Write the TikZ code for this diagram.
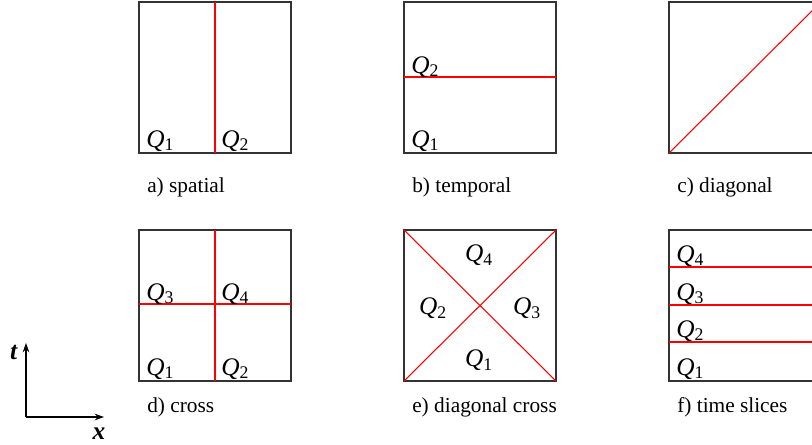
\documentclass[tikz,border=0pt]{standalone}
\usepackage{fontspec}
\setmainfont{Liberation Serif}
\usepackage{tikz}
\usetikzlibrary{arrows.meta}

\newcommand{\qsub}[1]{\textit{Q}\textsubscript{#1}}

\begin{document}
\begin{tikzpicture}[x=0.75pt,y=-0.75pt,>={Stealth[length=7pt,width=5pt]},font=\fontsize{16}{19}\selectfont]
	\tikzset{
		box/.style={draw=black!80,line width=0.9pt},
		cut/.style={red,line width=0.8pt},
		lab/.style={anchor=base west,inner sep=0pt},
		qtext/.style={font=\fontsize{19}{22}\selectfont},
		qlab/.style={qtext,anchor=base west,inner sep=0pt},
		qmid/.style={qtext,anchor=center,inner sep=0pt}
	}
	\useasboundingbox (0,0) rectangle (812,444);
	\clip (0,0) rectangle (812,444);
	
	% a) spatial
	\coordinate (A1) at (139,2);
	\coordinate (A2) at (291,153);
	\draw[box] (A1) rectangle (A2);
	\draw[cut] (215,2)--(215,153);
	\node[qlab] (aq1) at (146,147) {\qsub{1}};
	\node[qlab] (aq2) at (221,147) {\qsub{2}};
	\node[lab] (acap) at (147,192) {a) spatial};
	
	% b) temporal
	\coordinate (B1) at (404,2);
	\coordinate (B2) at (556,153);
	\draw[box] (B1) rectangle (B2);
	\draw[cut] (404,77)--(556,77);
	\node[qlab] (bq2) at (411,73) {\qsub{2}};
	\node[qlab] (bq1) at (411,147) {\qsub{1}};
	\node[lab] (bcap) at (412,192) {b) temporal};
	
	% c) diagonal
	\coordinate (C1) at (669,2);
	\coordinate (C2) at (821,153);
	\draw[box] (C1) rectangle (C2);
	\draw[cut] (669,153)--(821,2);
	\node[lab] (ccap) at (677,192) {c) diagonal};
	
	% d) cross
	\coordinate (D1) at (139,230);
	\coordinate (D2) at (291,381);
	\draw[box] (D1) rectangle (D2);
	\draw[cut] (215,230)--(215,381);
	\draw[cut] (139,304)--(291,304);
	\node[qlab] (dq3) at (146,300) {\qsub{3}};
	\node[qlab] (dq4) at (221,300) {\qsub{4}};
	\node[qlab] (dq1) at (146,375) {\qsub{1}};
	\node[qlab] (dq2) at (221,375) {\qsub{2}};
	\node[lab] (dcap) at (147,412) {d) cross};
	
	% e) diagonal cross
	\coordinate (E1) at (404,230);
	\coordinate (E2) at (556,381);
	\draw[box] (E1) rectangle (E2);
	\draw[cut] (E1)--(E2);
	\draw[cut] (404,381)--(556,230);
	\node[qmid] (eq4) at (479,255) {\qsub{4}};
	\node[qmid] (eq2) at (433,308) {\qsub{2}};
	\node[qmid] (eq3) at (527,308) {\qsub{3}};
	\node[qmid] (eq1) at (479,360) {\qsub{1}};
	\node[lab] (ecap) at (412,412) {e) diagonal cross};
	
	% f) time slices
	\coordinate (F1) at (669,230);
	\coordinate (F2) at (821,381);
	\draw[box] (F1) rectangle (F2);
	\foreach \y in {267,305,342}
		\draw[cut] (669,\y)--(821,\y);
	\node[qlab] (fq4) at (676,262) {\qsub{4}};
	\node[qlab] (fq3) at (676,300) {\qsub{3}};
	\node[qlab] (fq2) at (676,337) {\qsub{2}};
	\node[qlab] (fq1) at (676,375) {\qsub{1}};
	\node[lab] (fcap) at (677,412) {f) time slices};
	
	% axes
	\coordinate (O) at (26,417);
	\coordinate (T) at (26,343);
	\coordinate (X) at (104,417);
	\draw[->,line width=0.8pt] (O)--(T);
	\draw[->,line width=0.8pt] (O)--(X);
	\node[qtext] (tlab) at (14,352) {\textbf{\textit{t}}};
	\node[qtext] (xlab) at (99,434) {\textbf{\textit{x}}};
\end{tikzpicture}
\end{document}
